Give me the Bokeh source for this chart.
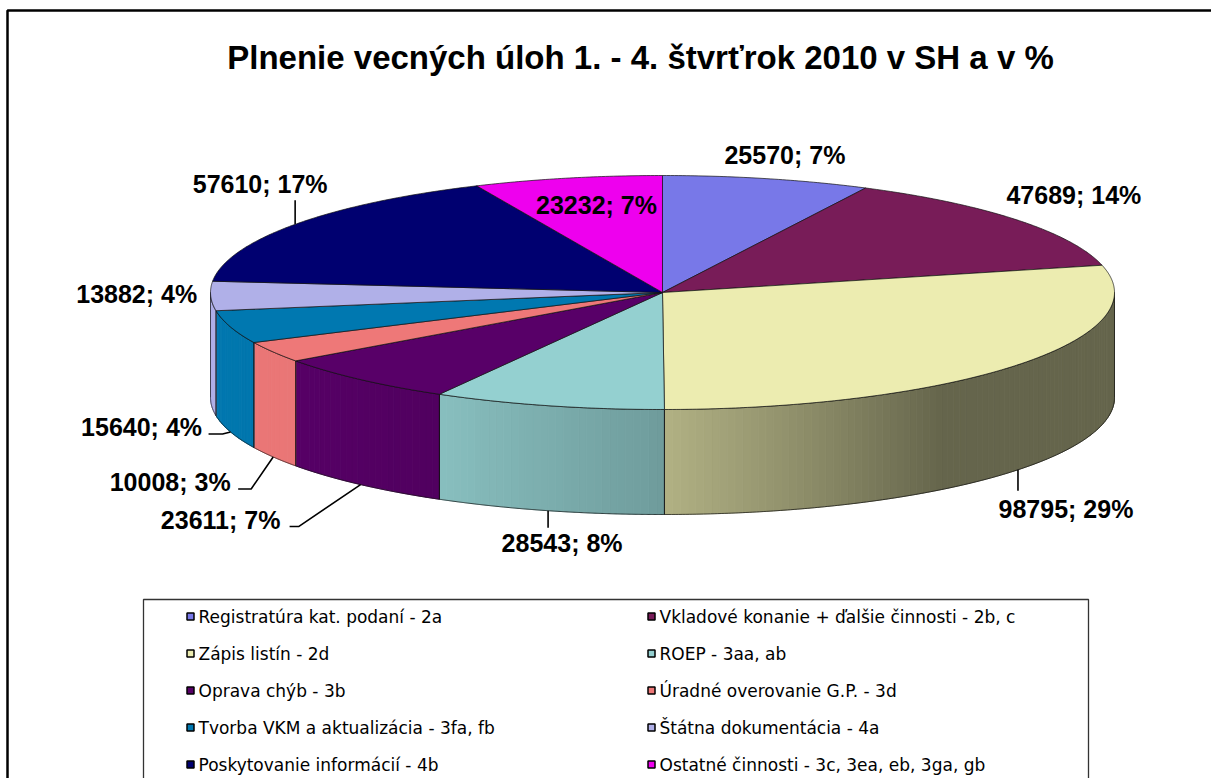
import numpy as np
from bokeh.plotting import figure
from bokeh.models import Range1d
from bokeh.embed import file_html
from bokeh.resources import INLINE
from bokeh.core.properties import value

# ---------------- data ----------------
TITLE = "Plnenie vecných úloh 1. - 4. štvrťrok 2010 v SH a v %"
categories = [
    "Registratúra kat. podaní - 2a",
    "Vkladové konanie + ďalšie činnosti - 2b, c",
    "Zápis listín - 2d",
    "ROEP - 3aa, ab",
    "Oprava chýb - 3b",
    "Úradné overovanie G.P. - 3d",
    "Tvorba VKM a aktualizácia - 3fa, fb",
    "Štátna dokumentácia - 4a",
    "Poskytovanie informácií - 4b",
    "Ostatné činnosti - 3c, 3ea, eb, 3ga, gb",
]
values = [25570, 47689, 98795, 28543, 23611, 10008, 15640, 13882, 57610, 23232]
percents = [7, 14, 29, 8, 7, 3, 4, 4, 17, 7]
colors = ["#7878e8", "#781c58", "#ececb0", "#94d0d0", "#580068",
          "#ee7878", "#0078b0", "#b0b0e8", "#000070", "#ee00ee"]

# ---------------- style / layout ----------------
W, H = 1211, 778
CX, CY = 662.0, 292.0      # centre of top ellipse (page px)
RX, RY = 452.0, 117.0      # ellipse radii
DEPTH = 105.0              # pie thickness
LABEL_FONT = value("Liberation Sans")
# label offset from the top-edge point at the slice mid angle
label_off = [(18, -24), (57, -25), (48, 144), (14, 137), (-140, 140),
             (-103, 130), (-89, 100), (-74, -2), (-35, -40), (29, 27)]
# leader polylines relative to the edge point (front slices: bottom edge)
leaders = [None, None, [(0, 0), (0, 21)], [(0, 0), (0, 17)],
           [(0, 0), (-62, 42), (-71, 42)], [(0, 0), (-22, 32), (-35, 32)],
           [(0, 0), (-8, 2), (-22, 2)], None, [(0, 0), (0, -24)], None]

SHADE_T = [90, 142, 180, 210, 235, 270]
SHADE_F = [0.43, 0.43, 0.75, 0.92, 0.98, 1.0]


def ex(t):
    return CX + RX * np.sin(np.radians(t))


def ey(t):
    return CY - RY * np.cos(np.radians(t))


def shade(hexc, f):
    r, g, b = (int(hexc[k:k + 2], 16) for k in (1, 3, 5))
    return "#%02x%02x%02x" % tuple(min(255, int(round(c * f))) for c in (r, g, b))


total = float(sum(values))
fr = np.array(values) / total
ends = np.cumsum(fr) * 360.0
starts = ends - fr * 360.0
mids = (starts + ends) / 2.0

p = figure(width=W, height=H, output_backend="svg", toolbar_location=None,
           x_range=Range1d(0, W), y_range=Range1d(H, 0), min_border=0)
p.xaxis.visible = False
p.yaxis.visible = False
p.xgrid.visible = False
p.ygrid.visible = False
p.outline_line_color = None
p.border_fill_color = "white"
p.background_fill_color = "white"

# ---- side walls (front half) ----
sx, sy, sc = [], [], []
ox, oy = [], []
for i in range(len(values)):
    lo, hi = max(starts[i], 90.0), min(ends[i], 270.0)
    if lo >= hi:
        continue
    n = max(2, int((hi - lo) / 1.0) + 1)
    ed = np.linspace(lo, hi, n + 1)
    for a, b in zip(ed[:-1], ed[1:]):
        sx.append([ex(a), ex(b), ex(b), ex(a)])
        sy.append([ey(a), ey(b), ey(b) + DEPTH, ey(a) + DEPTH])
        sc.append(shade(colors[i], float(np.interp((a + b) / 2, SHADE_T, SHADE_F))))
    arc = np.linspace(lo, hi, 200)
    ox.append(list(ex(arc)) + list(ex(arc[::-1])))
    oy.append(list(ey(arc)) + list(ey(arc[::-1]) + DEPTH))

p.patches(xs=sx, ys=sy, fill_color=sc, line_color=sc, line_width=0.9)
p.patches(xs=ox, ys=oy, fill_alpha=0, line_color="#111111", line_width=0.7)

# ---- top faces ----
tx, ty = [], []
for i in range(len(values)):
    arc = np.linspace(starts[i], ends[i], max(20, int(fr[i] * 720)))
    tx.append([CX] + list(ex(arc)))
    ty.append([CY] + list(ey(arc)))
p.patches(xs=tx, ys=ty, fill_color=colors, line_color="#111111", line_width=0.7)

# ---- leaders & labels ----
lab_x, lab_y, lab_t = [], [], []
for i in range(len(values)):
    t = mids[i]
    px, py = ex(t), ey(t)
    lab_x.append(px + label_off[i][0])
    lab_y.append(py + label_off[i][1])
    lab_t.append("%d; %d%%" % (values[i], percents[i]))
    if leaders[i] is not None:
        base_y = py + (DEPTH if np.cos(np.radians(t)) < 0 else 0)
        p.line([px + d[0] for d in leaders[i]], [base_y + d[1] for d in leaders[i]],
               line_color="black", line_width=1.6)

p.text(x=lab_x, y=lab_y, text=lab_t, text_font=LABEL_FONT, text_font_style="bold",
       text_font_size="25px", text_align="center", text_baseline="middle",
       text_color="black")

# ---- title ----
p.text(x=[640], y=[57], text=[TITLE], text_font=LABEL_FONT, text_font_style="bold",
       text_font_size="33px", text_align="center", text_baseline="middle",
       text_color="black")

# ---- legend ----
LEG_X = [190, 651]
LEG_Y0, LEG_DY = 616, 37
lx = [LEG_X[i % 2] for i in range(len(categories))]
ly = [LEG_Y0 + LEG_DY * (i // 2) for i in range(len(categories))]
p.rect(x=lx, y=ly, width=7, height=7, fill_color=colors, line_color="black", line_width=1.5)
p.text(x=[v + 8 for v in lx], y=ly, text=categories, text_font=value("DejaVu Sans"),
       text_font_size="17px", text_align="left", text_baseline="middle", text_color="black")
p.line([143, 143, 1088, 1088], [800, 599, 599, 800], line_color="#333333", line_width=1.3)

# ---- outer chart frame ----
p.line([7, 7, 1230], [800, 10, 10], line_color="black", line_width=2.5)

open("out.html", "w").write(file_html(p, INLINE))
